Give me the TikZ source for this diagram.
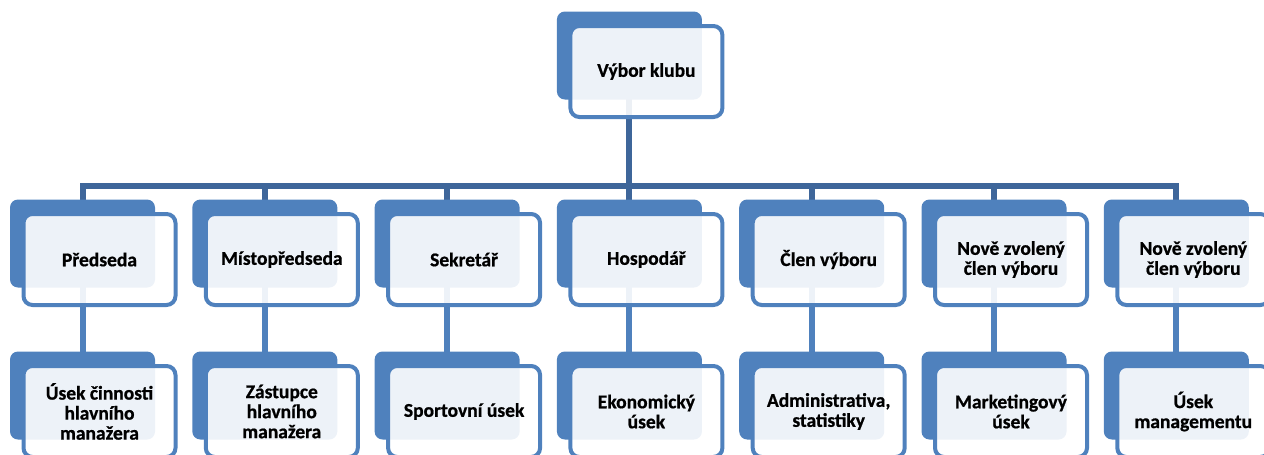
\documentclass[tikz,border=0pt]{standalone}
\usepackage{fontspec}
\setmainfont[FakeBold=0.8]{Carlito}
\usetikzlibrary{positioning, calc}
\definecolor{boxblue}{RGB}{79,129,189}
\definecolor{treeblue}{RGB}{62,102,154}
\pgfdeclarelayer{background}
\pgfsetlayers{background,main}

\begin{document}
\begin{tikzpicture}[
    x=1pt, y=1pt,
    backbox/.style={
        fill=boxblue,
        rounded corners=8pt,
        minimum width=145pt,
        minimum height=88pt,
        inner sep=0pt,
        outer sep=0pt
    },
    facebox/.style={
        draw=boxblue,
        line width=4pt,
        fill=white,
        fill opacity=0.9,
        text opacity=1,
        rounded corners=9pt,
        minimum width=152pt,
        minimum height=91pt,
        inner sep=2pt,
        align=center,
        font=\fontsize{19.5}{20}\selectfont\bfseries
    },
    treelink/.style={draw=treeblue, line width=6pt},
    rowlink/.style={draw=boxblue, line width=6pt}
]
\useasboundingbox (0,0) rectangle (1264,-455);
\clip (0,0) rectangle (1264,-455);
% ============================================================
% BACK PLATES -- first row, left to right
% ============================================================
\node[backbox] (pred) at (82.5,-243.5) {};
\node[backbox, right=37.3pt of pred]  (misto) {};
\node[backbox, right=37.3pt of misto] (sekr)  {};
\node[backbox, right=37.3pt of sekr]  (hosp)  {};
\node[backbox, right=37.3pt of hosp]  (clen)  {};
\node[backbox, right=37.3pt of clen]  (nove1) {};
\node[backbox, right=37.3pt of nove1] (nove2) {};
% committee on top, straight above Hospodar
\node[backbox, above=100pt of hosp] (vybor) {};
% ============================================================
% BACK PLATES -- second row
% ============================================================
\node[backbox, below=64pt of pred]  (usekhm) {};
\node[backbox, below=64pt of misto] (zastup) {};
\node[backbox, below=64pt of sekr]  (sport)  {};
\node[backbox, below=64pt of hosp]  (ekon)   {};
\node[backbox, below=64pt of clen]  (admin)  {};
\node[backbox, below=64pt of nove1] (market) {};
\node[backbox, below=64pt of nove2] (mgmt)   {};
% ============================================================
% FRONT PLATES WITH TEXT -- shifted down-right of each back plate
% ============================================================
\node[facebox] (vyborT)  at ($(vybor.center)+(17,-16)$)  {\raisebox{-4pt}{Výbor klubu}};
\node[facebox] (predT)   at ($(pred.center)+(17,-16)$)   {Předseda};
\node[facebox] (mistoT)  at ($(misto.center)+(17,-16)$)  {Místopředseda};
\node[facebox] (sekrT)   at ($(sekr.center)+(17,-16)$)   {Sekretář};
\node[facebox] (hospT)   at ($(hosp.center)+(17,-16)$)   {Hospodář};
\node[facebox] (clenT)   at ($(clen.center)+(17,-16)$)   {Člen výboru};
\node[facebox] (nove1T)  at ($(nove1.center)+(17,-16)$)  {Nově zvolený\\člen výboru};
\node[facebox] (nove2T)  at ($(nove2.center)+(17,-16)$)  {Nově zvolený\\člen výboru};
\node[facebox] (usekhmT) at ($(usekhm.center)+(17,-16)$) {Úsek činnosti\\hlavního\\manažera};
\node[facebox] (zastupT) at ($(zastup.center)+(17,-16)$) {Zástupce\\hlavního\\manažera};
\node[facebox] (sportT)  at ($(sport.center)+(17,-16)$)  {Sportovní úsek};
\node[facebox] (ekonT)   at ($(ekon.center)+(17,-16)$)   {Ekonomický\\úsek};
\node[facebox] (adminT)  at ($(admin.center)+(17,-16)$)  {Administrativa,\\statistiky};
\node[facebox] (marketT) at ($(market.center)+(17,-16)$) {Marketingový\\úsek};
\node[facebox] (mgmtT)   at ($(mgmt.center)+(17,-16)$)   {Úsek\\managementu};
% ============================================================
% CONNECTORS -- behind the plates
% ============================================================
\begin{pgfonlayer}{background}
\coordinate (bar) at (0,-186);
\draw[treelink] (vybor.center) -- (hosp.north);
\draw[treelink]
    (pred.north)
    -- (pred.north |- bar)
    -- (nove2.north |- bar)
    -- (nove2.north);
\draw[treelink] (misto.north |- bar) -- (misto.north);
\draw[treelink] (sekr.north |- bar)  -- (sekr.north);
\draw[treelink] (clen.north |- bar)  -- (clen.north);
\draw[treelink] (nove1.north |- bar) -- (nove1.north);
% first row down to second row
\draw[rowlink] (pred.center)  -- (usekhm.north);
\draw[rowlink] (misto.center) -- (zastup.north);
\draw[rowlink] (sekr.center)  -- (sport.north);
\draw[rowlink] (hosp.center)  -- (ekon.north);
\draw[rowlink] (clen.center)  -- (admin.north);
\draw[rowlink] (nove1.center) -- (market.north);
\draw[rowlink] (nove2.center) -- (mgmt.north);
\end{pgfonlayer}
\end{tikzpicture}
\end{document}
